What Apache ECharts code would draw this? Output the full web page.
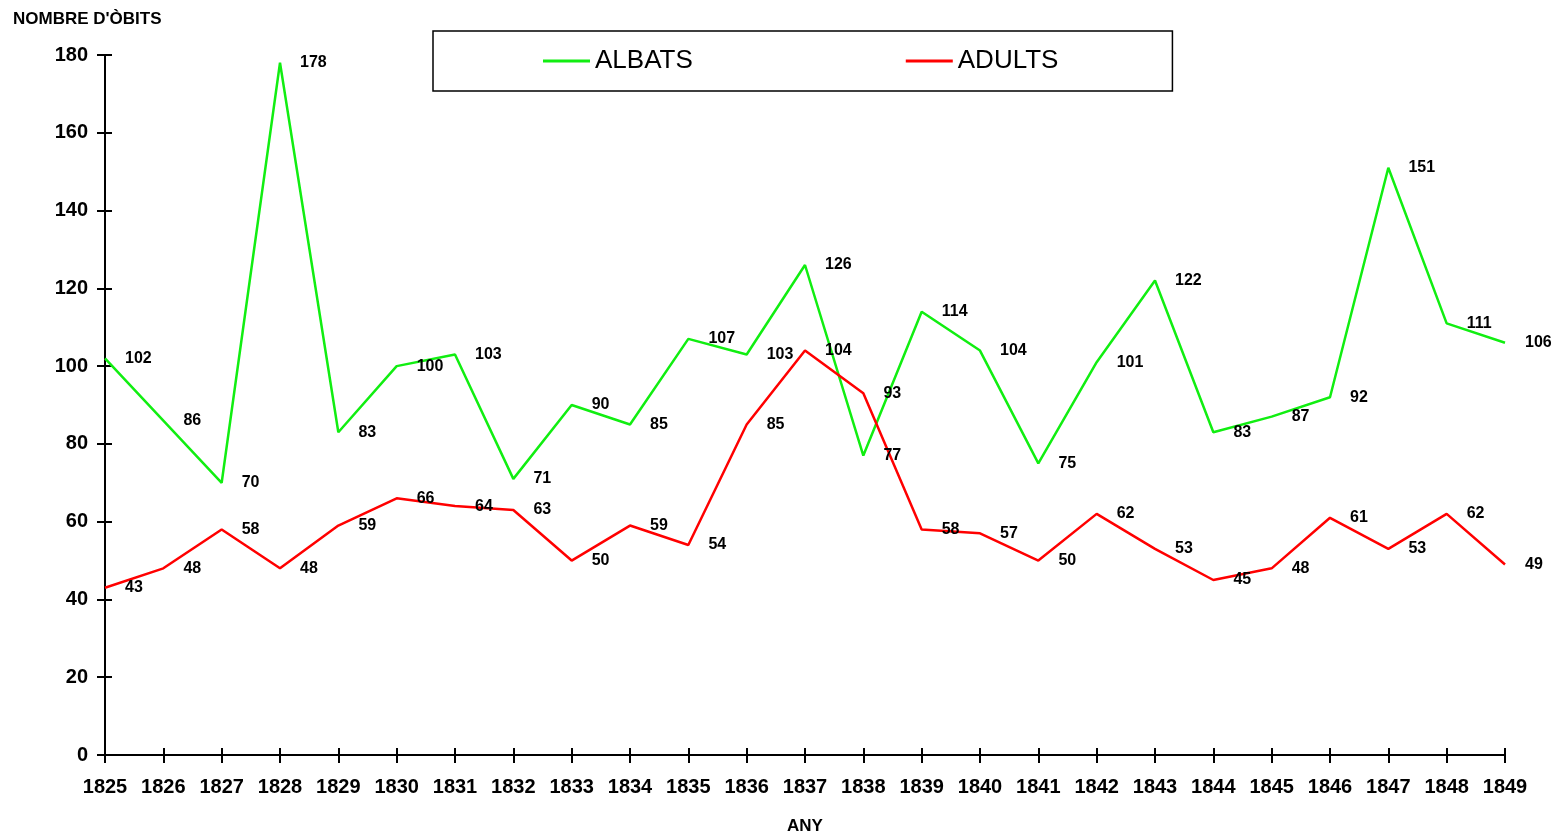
<!DOCTYPE html>
<html>
<head>
<meta charset="utf-8">
<script src="https://cdn.jsdelivr.net/npm/echarts@6/dist/echarts.min.js"></script>
<style>html,body{margin:0;padding:0;background:#fff}#c{width:1561px;height:838px}</style>
</head>
<body>
<div id="c"></div>
<script>
const years = ['1825','1826','1827','1828','1829','1830','1831','1832','1833','1834','1835','1836','1837','1838','1839','1840','1841','1842','1843','1844','1845','1846','1847','1848','1849'];
const albats = [102,86,70,178,83,100,103,71,90,85,107,103,126,77,114,104,75,101,122,83,87,92,151,111,106];
const adults = [43,48,58,48,59,66,64,63,50,59,54,85,104,93,58,57,50,62,53,45,48,61,53,62,49];
const yMin = 0, yMax = 180, yStep = 20;

const FONT = '"Liberation Sans", Arial, sans-serif';
const chart = echarts.init(document.getElementById('c'));
const labelCfg = {show:true, position:'right', distance:20, color:'#000', fontSize:16, fontWeight:'bold', fontFamily:FONT};
chart.setOption({
  animation:false,
  backgroundColor:'#fff',
  title:{text:"NOMBRE D'ÒBITS", left:13, top:11, padding:0,
    textStyle:{fontSize:17, fontWeight:'bold', color:'#000', fontFamily:FONT}},
  legend:{left:433, top:31, orient:'horizontal', icon:'rect', itemWidth:47, itemHeight:3,
    itemGap:213, padding:[17,114,17,110], borderColor:'#000', borderWidth:1.5,
    textStyle:{fontSize:26, color:'#000', fontFamily:FONT},
    data:['ALBATS','ADULTS']},
  grid:{left:105, right:56, top:55, bottom:83, containLabel:false, outerBoundsMode:'none'},
  xAxis:[{type:'category', data:years, boundaryGap:false,
    name:'ANY', nameLocation:'middle', nameGap:63,
    nameTextStyle:{fontSize:17, fontWeight:'bold', color:'#000', fontFamily:FONT},
    axisLine:{lineStyle:{color:'#000', width:2}},
    axisTick:{show:true, inside:false, length:8, interval:0, lineStyle:{color:'#000', width:2}},
    axisLabel:{interval:0, margin:22, fontSize:20, fontWeight:'bold', color:'#000', fontFamily:FONT},
    splitLine:{show:false}},
   {type:'category', data:years, boundaryGap:false, position:'bottom',
    axisLine:{show:true, onZero:false, lineStyle:{color:'#000', width:2}},
    axisTick:{show:true, inside:true, length:7, interval:0, lineStyle:{color:'#000', width:2}},
    axisLabel:{show:false}, splitLine:{show:false}}],
  yAxis:[{type:'value', min:yMin, max:yMax, interval:yStep, position:'left',
    axisLine:{show:true, lineStyle:{color:'#000', width:2}},
    axisTick:{show:true, inside:false, length:8, lineStyle:{color:'#000', width:2}},
    axisLabel:{margin:17, fontSize:20, fontWeight:'bold', color:'#000', fontFamily:FONT},
    splitLine:{show:false}},
   {type:'value', min:yMin, max:yMax, interval:yStep, position:'left',
    axisLine:{show:true, onZero:false, lineStyle:{color:'#000', width:2}},
    axisTick:{show:true, inside:true, length:7, lineStyle:{color:'#000', width:2}},
    axisLabel:{show:false}, splitLine:{show:false}}],
  series:[
    {name:'ALBATS', type:'line', data:albats, color:'#11ee11',
     symbol:'circle', symbolSize:0.1, lineStyle:{width:2.5, color:'#11ee11'},
     label:labelCfg},
    {name:'ADULTS', type:'line', data:adults, color:'#ff0000',
     symbol:'circle', symbolSize:0.1, lineStyle:{width:2.5, color:'#ff0000'},
     label:labelCfg}
  ]
});
</script>
</body>
</html>
